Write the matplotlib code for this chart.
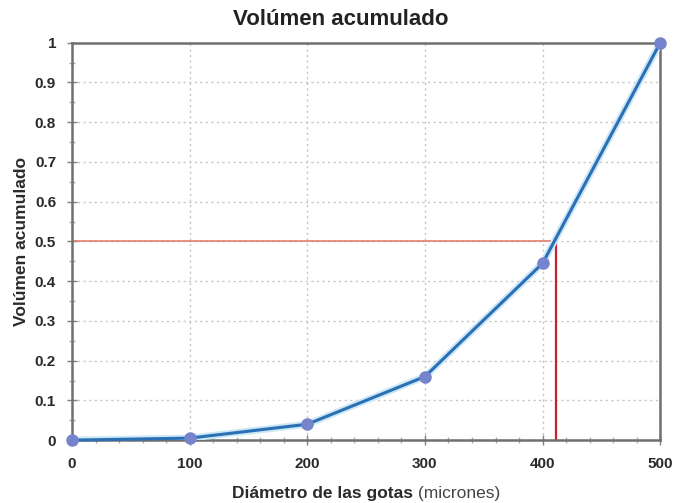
import matplotlib.pyplot as plt
from matplotlib.ticker import MultipleLocator

plt.rcParams['font.family'] = ['Liberation Sans', 'DejaVu Sans']

# datos
diametro = [0, 100, 200, 300, 400, 500]
volumen = [0.0, 0.005, 0.04, 0.16, 0.445, 1.0]
d50 = 411
v50 = 0.5

fig = plt.figure(figsize=(6.73, 5.03), dpi=100)
ax = fig.add_axes([0.107, 0.125, 0.874, 0.79])

ax.plot(diametro, volumen, color='#cbe8f7', linewidth=5, zorder=3, solid_capstyle='round')
ax.plot(diametro, volumen, color='#2b6fb5', linewidth=2.2, marker='o', markersize=8,
        markerfacecolor='#7584cc', markeredgecolor='#7584cc', zorder=4, clip_on=False)

ax.plot([0, d50], [v50, v50], color='#e0806a', linewidth=1.2, zorder=2)
ax.plot([d50, d50], [0, v50], color='#c8202c', linewidth=1.6, zorder=2)

ax.set_xlim(0, 500)
ax.set_ylim(0, 1)
ax.xaxis.set_major_locator(MultipleLocator(100))
ax.xaxis.set_minor_locator(MultipleLocator(20))
ax.yaxis.set_major_locator(MultipleLocator(0.1))
ax.yaxis.set_minor_locator(MultipleLocator(0.05))
ax.yaxis.set_major_formatter(plt.FuncFormatter(lambda v, p: '%g' % round(v, 2)))

ax.grid(True, which='major', color='#c4c4c4', linestyle=(0, (1.5, 2.5)), linewidth=1)
ax.tick_params(which='major', direction='inout', length=7, width=1, colors='#808080',
               labelcolor='#2a2a2a', labelsize=11, pad=9)
ax.tick_params(axis='y', which='major', pad=8)
ax.tick_params(which='minor', direction='inout', length=5, width=1, colors='#a8a8a8')
for lab in ax.get_xticklabels() + ax.get_yticklabels():
    lab.set_fontweight('bold')

for s in ax.spines.values():
    s.set_color('#707070')
    s.set_linewidth(1.8)

fig.text(0.507, 0.962, 'Volúmen acumulado', fontsize=16, fontweight='bold',
         color='#222222', ha='center', va='center')
ax.set_ylabel('Volúmen acumulado', fontsize=12.5, fontweight='bold', color='#2a2a2a', labelpad=4)

t1 = fig.text(0.345, 0.003, 'Diámetro de las gotas', fontsize=12.5, fontweight='bold',
              color='#2a2a2a', ha='left', va='bottom')
ax.annotate(' (micrones)', xy=(1, 0), xycoords=t1, fontsize=12.5, color='#444444',
            ha='left', va='bottom')

fig.savefig('out.png', dpi=100)
